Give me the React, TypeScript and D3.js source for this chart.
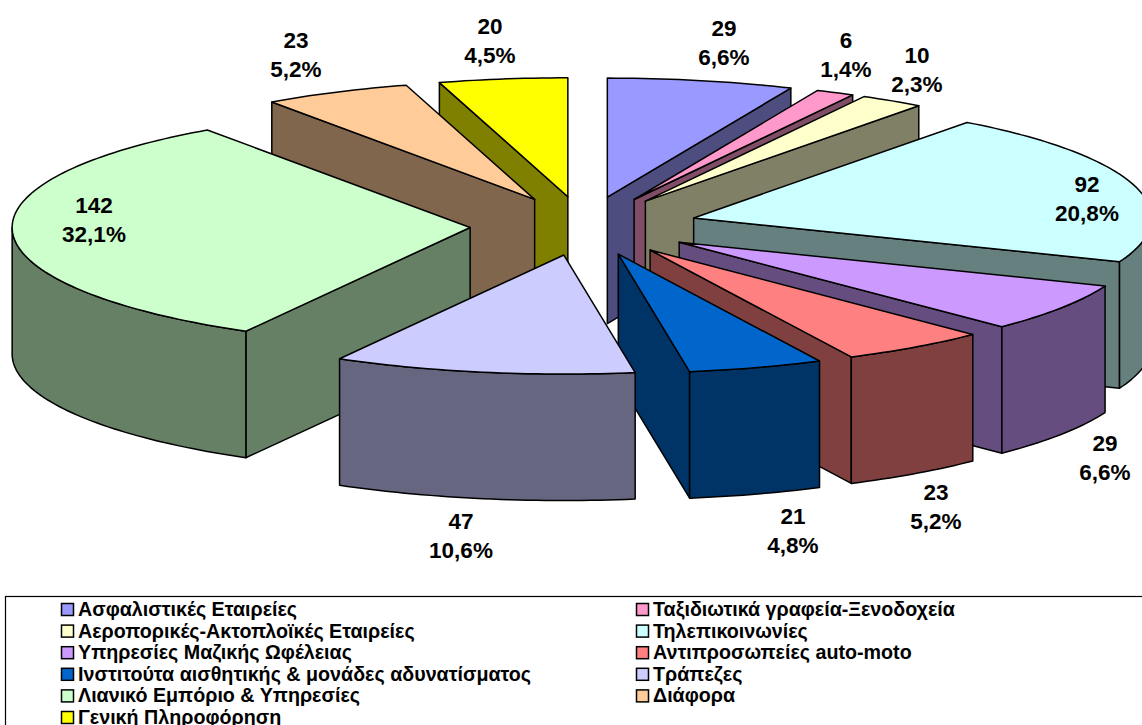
import * as d3 from "d3";

const categories = [
  "Ασφαλιστικές Εταιρείες",
  "Ταξιδιωτικά γραφεία-Ξενοδοχεία",
  "Αεροπορικές-Ακτοπλοϊκές Εταιρείες",
  "Τηλεπικοινωνίες",
  "Υπηρεσίες Μαζικής Ωφέλειας",
  "Αντιπροσωπείες auto-moto",
  "Ινστιτούτα αισθητικής & μονάδες αδυνατίσματος",
  "Τράπεζες",
  "Λιανικό Εμπόριο & Υπηρεσίες",
  "Διάφορα",
  "Γενική Πληροφόρηση",
];
const values = [29, 6, 10, 92, 29, 23, 21, 47, 142, 23, 20];
const percents = ["6,6%", "1,4%", "2,3%", "20,8%", "6,6%", "5,2%", "4,8%", "10,6%", "32,1%", "5,2%", "4,5%"];
const topColors = ["#9999FF", "#FF99CC", "#FFFFCC", "#CCFFFF", "#CC99FF", "#FF8080", "#0066CC", "#CCCCFF", "#CCFFCC", "#FFCC99", "#FFFF00"];
const sideColors = ["#4D4D80", "#804D66", "#808066", "#668080", "#664D80", "#804040", "#003366", "#666680", "#668066", "#80664D", "#808000"];

// label centres (first line), same order as the values
const labelX = [724, 846, 917, 1087, 1105, 936, 793, 461, 94, 296, 490];
const labelY = [28, 40, 55, 184, 443, 492, 516, 521, 205, 40, 26];

// back to front
const drawOrder = [0, 1, 2, 3, 4, 5, 6, 10, 9, 8, 7];

const width = 1142;
const height = 725;
const cx = 584;
const cy = 226;
const rx = 458;
const ry = 119;
const explode = 114;
const explodeY = 29.5;
const depth = 126.5;

const pie = d3.pie<number>().sort(null).startAngle(0).endAngle(2 * Math.PI);
const arcs = pie(values);

const line = d3.line<[number, number]>();

function arcPoints(ax: number, ay: number, a0: number, a1: number, dy = 0) {
  const n = Math.max(2, Math.ceil((a1 - a0) / 0.02));
  return d3.range(n + 1).map((i): [number, number] => {
    const a = a0 + ((a1 - a0) * i) / n;
    return [ax + rx * Math.sin(a), ay - ry * Math.cos(a) + dy];
  });
}

function Slice({ i }: { i: number }) {
  const { startAngle: a0, endAngle: a1 } = arcs[i];
  const mid = (a0 + a1) / 2;
  const ax = cx + explode * Math.sin(mid);
  const ay = cy - explodeY * Math.cos(mid);
  const edge = (a: number) => {
    const [p] = arcPoints(ax, ay, a, a);
    return line([
      [ax, ay],
      p,
      [p[0], p[1] + depth],
      [ax, ay + depth],
    ]) + "Z";
  };
  const paths: string[] = [];
  if (Math.sin(a0) < -1e-6) paths.push(edge(a0));
  if (Math.sin(a1) > 1e-6) paths.push(edge(a1));
  const w0 = Math.max(a0, Math.PI / 2);
  const w1 = Math.min(a1, (3 * Math.PI) / 2);
  if (w1 > w0) {
    const upper = arcPoints(ax, ay, w0, w1);
    const lower = arcPoints(ax, ay, w0, w1, depth).reverse();
    paths.push(line([...upper, ...lower]) + "Z");
  }
  const top = line([[ax, ay], ...arcPoints(ax, ay, a0, a1)]) + "Z";
  return (
    <g stroke="#000" strokeWidth={1.5} strokeLinejoin="round">
      {paths.map((d, k) => (
        <path key={k} d={d} fill={sideColors[i]} />
      ))}
      <path d={top} fill={topColors[i]} />
    </g>
  );
}

export default function App() {
  const font = "'Liberation Sans', Arial, sans-serif";
  return (
    <svg
      width={width}
      height={height}
      viewBox={`0 0 ${width} ${height}`}
      style={{ position: "absolute", left: 0, top: 0, background: "#fff" }}
      fontFamily={font}
      fontWeight="bold"
    >
      {drawOrder.map((i) => (
        <Slice key={i} i={i} />
      ))}

      {values.map((v, i) => (
        <g key={i} fontSize={22.5} textAnchor="middle" fill="#000">
          <text x={labelX[i]} y={labelY[i] + 8}>{v}</text>
          <text x={labelX[i]} y={labelY[i] + 37}>{percents[i]}</text>
        </g>
      ))}

      <rect x={5.5} y={596.5} width={1200} height={200} fill="none" stroke="#000" strokeWidth={1.2} />
      {categories.map((c, i) => {
        const col = i % 2;
        const row = Math.floor(i / 2);
        const x = col === 0 ? 61 : 636;
        const y = 609.5 + row * 21.6;
        return (
          <g key={c}>
            <rect x={x + 0.5} y={y - 6} width={12} height={12} fill={topColors[i]} stroke="#000" strokeWidth={1.5} />
            <text x={x + 17} y={y + 6.5} fontSize={19.7} fill="#000">{c}</text>
          </g>
        );
      })}
    </svg>
  );
}
